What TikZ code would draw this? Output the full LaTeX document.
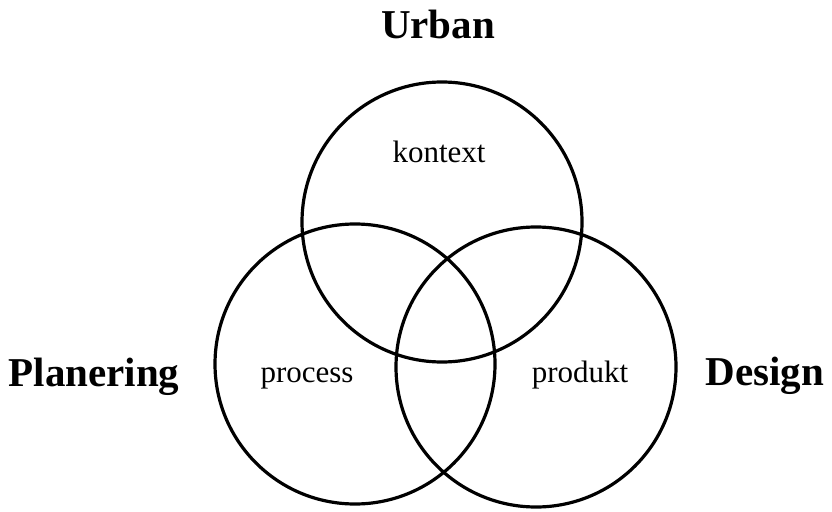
\documentclass[tikz,border=0pt]{standalone}
\usepackage{fontspec}
\setmainfont{Liberation Serif}
\usepackage{tikz}
\usetikzlibrary{positioning}

\begin{document}
\begin{tikzpicture}[x=1pt,y=-1pt,
    set/.style={circle,draw,line width=3.2pt,minimum size=280pt,inner sep=0pt},
    field/.style={font=\fontsize{41}{41}\selectfont\bfseries,anchor=base},
    part/.style={font=\fontsize{31}{31}\selectfont,anchor=base}]
\useasboundingbox (0,0) rectangle (832,511);
% Circles
\node[set] (urb) at (442,222) {};
\node[set] (pla) at (355,364) {};
\node[set] (des) at (536,367) {};
% Field names
\node[field] (urban) at (438,39) {Urban};
\node[field] (planering) at (94,386.5) {Planering};
\node[field] (design) at (765,385) {Design};
% Inner labels
\node[part] (kontext) at (439,162) {kontext};
\node[part] (process) at (307,382) {process};
\node[part] (produkt) at (580,382) {produkt};
\end{tikzpicture}
\end{document}
